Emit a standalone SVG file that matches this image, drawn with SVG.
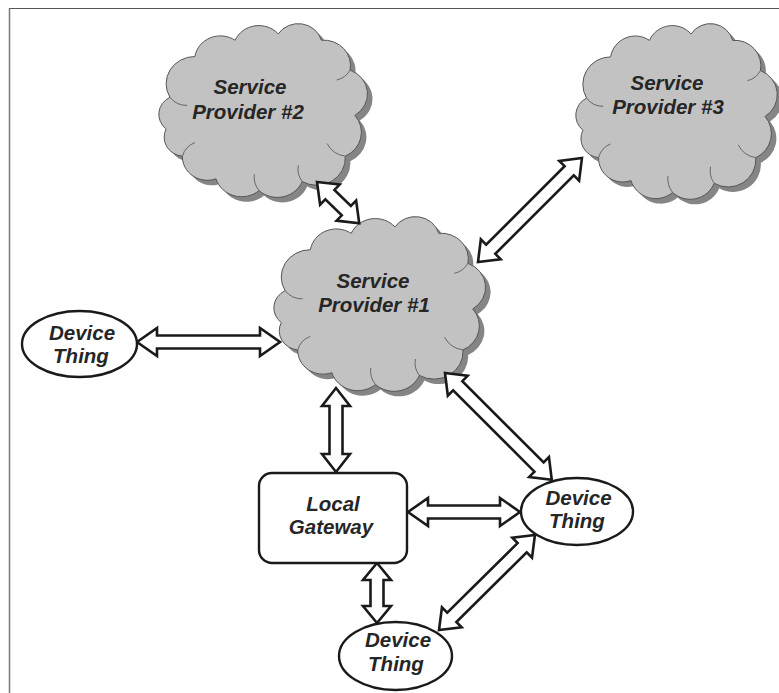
<svg xmlns="http://www.w3.org/2000/svg" xmlns:xlink="http://www.w3.org/1999/xlink" width="779" height="693" viewBox="0 0 779 693">
<style>
.lbl{font-family:"Liberation Sans",Arial,sans-serif;font-weight:bold;font-style:italic;font-size:20.5px;fill:#262626;text-anchor:middle}
.cloud{fill:#c2c2c2;stroke:#555;stroke-width:1}
.shadow{fill:#858585;stroke:none}
.inner{fill:none;stroke:#666;stroke-width:1}
.arrow{fill:#fff;stroke:#1a1a1a;stroke-width:2.6;stroke-linejoin:miter}
.node{fill:#fff;stroke:#1a1a1a;stroke-width:2.4}
</style>
<defs>
<path id="cloudOutline" vector-effect="non-scaling-stroke" d="M12,75 A30,30 0 0 1 38,30 A27,27 0 0 1 80,12 A27,27 0 0 1 125,5 A25,25 0 0 1 170,12 A28,28 0 0 1 200,45 A28,28 0 0 1 205,95 A29,29 0 0 1 195,140 A30,30 0 0 1 150,168 A28,28 0 0 1 105,178 A28,28 0 0 1 60,165 A26,26 0 0 1 25,140 A21,21 0 0 1 8,110 A21,21 0 0 1 12,75 Z"/>
<path id="cloudInner" vector-effect="non-scaling-stroke" d="M195,140 A25,25 0 0 1 176,126 M150,168 A24,24 0 0 1 146,150 M105,178 A25,25 0 0 1 100,160 M25,140 A22,22 0 0 1 38,125 M12,75 A22,22 0 0 0 30,84 M200,45 A22,22 0 0 1 186,56"/>
</defs>
<rect x="0" y="0" width="779" height="693" fill="#fff"/>
<line x1="9" y1="8.5" x2="779" y2="8.5" stroke="#555" stroke-width="1.2"/>
<line x1="9.5" y1="8" x2="9.5" y2="693" stroke="#777" stroke-width="1.5"/>

<g id="sp2">
<use xlink:href="#cloudOutline" class="shadow" transform="translate(163,30) scale(0.958,0.906) translate(0.5,4.8)"/>
<use xlink:href="#cloudOutline" class="cloud" transform="translate(158,25) scale(0.958,0.906) translate(0.5,4.8)"/>
<use xlink:href="#cloudInner" class="inner" transform="translate(158,25) scale(0.958,0.906) translate(0.5,4.8)"/>
<text class="lbl" x="250" y="94">Service</text>
<text class="lbl" x="248" y="119">Provider #2</text>
</g>

<g id="sp3">
<use xlink:href="#cloudOutline" class="shadow" transform="translate(580,30) scale(0.925,0.916) translate(0.5,4.8)"/>
<use xlink:href="#cloudOutline" class="cloud" transform="translate(575,25) scale(0.925,0.916) translate(0.5,4.8)"/>
<use xlink:href="#cloudInner" class="inner" transform="translate(575,25) scale(0.925,0.916) translate(0.5,4.8)"/>
<text class="lbl" x="667" y="90">Service</text>
<text class="lbl" x="668" y="114">Provider #3</text>
</g>

<g id="sp1">
<use xlink:href="#cloudOutline" class="shadow" transform="translate(278,223) scale(0.972,0.911) translate(0.5,4.8)"/>
<use xlink:href="#cloudOutline" class="cloud" transform="translate(273,218) scale(0.972,0.911) translate(0.5,4.8)"/>
<use xlink:href="#cloudInner" class="inner" transform="translate(273,218) scale(0.972,0.911) translate(0.5,4.8)"/>
<text class="lbl" x="373" y="288">Service</text>
<text class="lbl" x="374" y="312">Provider #1</text>
</g>

<g id="connectors">
<polygon class="arrow" transform="translate(317,182) rotate(44.3)" points="0,0 18,-14 18,-6.5 41,-6.5 41,-14 59,0 41,14 41,6.5 18,6.5 18,14"/>
<polygon class="arrow" transform="translate(478,262) rotate(-45)" points="0,0 18,-14 18,-6.5 129,-6.5 129,-14 147,0 129,14 129,6.5 18,6.5 18,14"/>
<polygon class="arrow" transform="translate(137,342)" points="0,0 20,-14 20,-6.5 123,-6.5 123,-14 143,0 123,14 123,6.5 20,6.5 20,14"/>
<polygon class="arrow" transform="translate(336,388) rotate(90)" points="0,0 18,-14 18,-6.5 66,-6.5 66,-14 84,0 66,14 66,6.5 18,6.5 18,14"/>
<polygon class="arrow" transform="translate(445,373) rotate(45)" points="0,0 18,-14 18,-6.5 133,-6.5 133,-14 151,0 133,14 133,6.5 18,6.5 18,14"/>
<polygon class="arrow" transform="translate(408,512)" points="0,0 20,-14 20,-6.5 92,-6.5 92,-14 112,0 92,14 92,6.5 20,6.5 20,14"/>
<polygon class="arrow" transform="translate(377,563) rotate(90)" points="0,0 17,-14 17,-6.5 43,-6.5 43,-14 60,0 43,14 43,6.5 17,6.5 17,14"/>
<polygon class="arrow" transform="translate(439,630) rotate(-44.7)" points="0,0 18,-14 18,-6.5 117,-6.5 117,-14 135,0 117,14 117,6.5 18,6.5 18,14"/>
</g>

<g id="dt-left">
<ellipse class="node" cx="79.5" cy="344" rx="57.5" ry="33"/>
<text class="lbl" x="82" y="340">Device</text>
<text class="lbl" x="81" y="363">Thing</text>
</g>

<g id="gateway">
<rect class="node" x="259" y="473" width="148" height="90" rx="13" ry="13"/>
<text class="lbl" x="333" y="511">Local</text>
<text class="lbl" x="331" y="534">Gateway</text>
</g>

<g id="dt-right">
<ellipse class="node" cx="577" cy="511.5" rx="56" ry="33.5"/>
<text class="lbl" x="578.5" y="505">Device</text>
<text class="lbl" x="577" y="528">Thing</text>
</g>

<g id="dt-bottom">
<ellipse class="node" cx="395.5" cy="656" rx="56.5" ry="34"/>
<text class="lbl" x="398" y="647">Device</text>
<text class="lbl" x="396" y="671">Thing</text>
</g>
</svg>
